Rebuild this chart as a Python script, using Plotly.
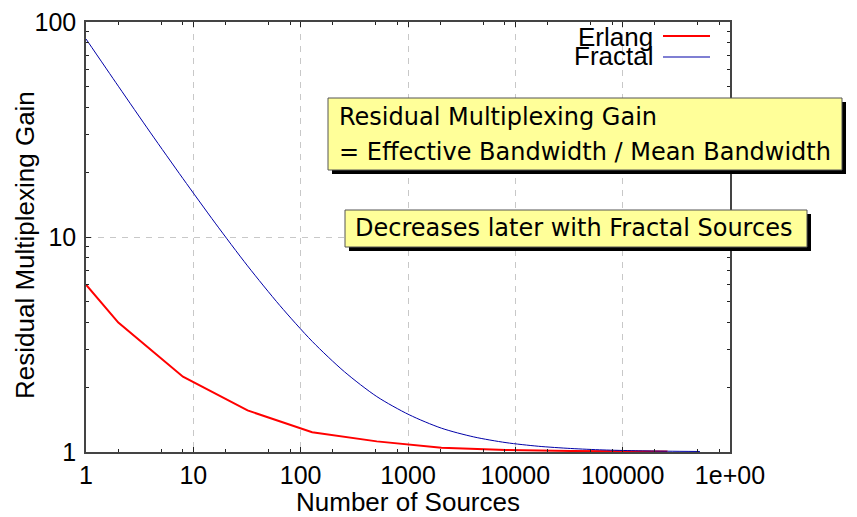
import plotly.graph_objects as go

# Number of sources (powers of two) and residual multiplexing gain
erlang_sources = [1, 2, 8, 32, 128, 512, 2048, 8192, 32768, 131072, 262144]
erlang_gain = [6.0, 4.0, 2.24, 1.56, 1.235, 1.12, 1.045, 1.022, 1.011, 1.006, 1.004]

fractal_sources = [1, 2, 4, 8, 16, 32, 64, 128, 256, 512, 1024, 2048, 4096,
                   8192, 16384, 32768, 65536, 131072, 262144, 524288]
fractal_gain = [83.4, 50.3, 30.5, 18.7, 11.6, 7.34, 4.80, 3.27, 2.36, 1.81,
                1.49, 1.29, 1.175, 1.105, 1.063, 1.038, 1.022, 1.013, 1.008, 1.005]

x_tickvals = [1, 10, 100, 1000, 10000, 100000, 1000000]
x_ticktext = ["1", "10", "100", "1000", "10000", "100000", "1e+00"]
y_tickvals = [1, 10, 100]
y_ticktext = ["1", "10", "100"]

# page body has an 8px margin, so the figure is drawn 8px smaller and shifted
OFF = 8
W, H = 857 - OFF, 517 - OFF
L, R, T, B = 86, 730, 22, 452   # plot area in page pixels


def px(x):
    return (x - L) / (R - L)


def py(y):
    return (B - y) / (B - T)


fig = go.Figure()

fig.add_trace(go.Scatter(x=erlang_sources, y=erlang_gain, mode="lines", name="Erlang",
                         line=dict(color="#ff0000", width=2)))
fig.add_trace(go.Scatter(x=fractal_sources, y=fractal_gain, mode="lines", name="Fractal",
                         line=dict(color="#0000a8", width=1, shape="spline", smoothing=0.8)))

axis_common = dict(
    type="log", automargin=False,
    showline=True, linecolor="#444444", linewidth=1.5, mirror="allticks",
    ticks="inside", ticklen=5, tickcolor="#222222", tickwidth=1,
    showgrid=True, gridcolor="#c8c8c8", griddash="6px,6px", gridwidth=1,
    zeroline=False, ticklabeloverflow="allow",
    tickfont=dict(family="Liberation Sans", size=25, color="black"),
)

fig.update_xaxes(range=[-0.0002, 6.0002], tickmode="array", tickvals=x_tickvals,
                 ticktext=x_ticktext,
                 minor=dict(tickmode="array",
                            tickvals=[m * 10 ** d for d in range(6) for m in (2, 5, 8)],
                            ticks="inside", ticklen=3, tickcolor="#222222", showgrid=False),
                 ticklabelstandoff=0, **axis_common)
fig.update_yaxes(range=[-0.0002, 2.0002], tickmode="array", tickvals=y_tickvals,
                 ticktext=y_ticktext,
                 minor=dict(tickmode="array",
                            tickvals=[m * 10 ** d for d in range(2) for m in range(2, 10)],
                            ticks="inside", ticklen=3, tickcolor="#222222", showgrid=False),
                 ticklabelstandoff=3, **axis_common)

shapes = []
# legend samples
shapes.append(dict(type="line", xref="paper", yref="paper", x0=px(663), x1=px(710),
                   y0=py(36), y1=py(36), line=dict(color="#ff0000", width=2)))
shapes.append(dict(type="line", xref="paper", yref="paper", x0=px(663), x1=px(710),
                   y0=py(57), y1=py(57), line=dict(color="rgba(0,0,168,0.5)", width=2)))
# note boxes with drop shadows
for (x0, y0, x1, y1) in [(328, 98, 842, 170), (345, 210, 807, 247)]:
    shapes.append(dict(type="rect", xref="paper", yref="paper",
                       x0=px(x0 + 4), x1=px(x1 + 4), y0=py(y1 + 4), y1=py(y0 + 4),
                       fillcolor="black", line=dict(width=0)))
    shapes.append(dict(type="rect", xref="paper", yref="paper",
                       x0=px(x0), x1=px(x1), y0=py(y1), y1=py(y0),
                       fillcolor="#ffff99", line=dict(color="#555555", width=1)))

title_font = dict(family="Liberation Sans", size=26, color="black")
box_font = dict(family="DejaVu Sans", size=24, color="black")

annotations = [
    dict(text="Erlang", x=px(655), y=py(37), xanchor="right", yanchor="middle", font=title_font),
    dict(text="Fractal", x=px(655), y=py(56), xanchor="right", yanchor="middle", font=title_font),
    dict(text="Number of Sources", x=0.5, y=py(502), xanchor="center", yanchor="middle",
         font=title_font),
    dict(text="Residual Multiplexing Gain", x=px(25), y=py(245), xanchor="center",
         yanchor="middle", textangle=-90, font=title_font),
    dict(text="Residual Multiplexing Gain", x=px(337), y=py(117), xanchor="left",
         yanchor="middle", font=box_font),
    dict(text="= Effective Bandwidth / Mean Bandwidth", x=px(337), y=py(152), xanchor="left",
         yanchor="middle", font=box_font),
    dict(text="Decreases later with Fractal Sources", x=px(353), y=py(228), xanchor="left",
         yanchor="middle", font=box_font),
]
for a in annotations:
    a.update(xref="paper", yref="paper", showarrow=False)

fig.update_layout(
    width=W, height=H,
    margin=dict(l=L - OFF, r=W - (R - OFF), t=T - OFF, b=H - (B - OFF)),
    paper_bgcolor="white", plot_bgcolor="white",
    showlegend=False,
    shapes=shapes,
    annotations=annotations,
)

fig.write_html("out.html")
